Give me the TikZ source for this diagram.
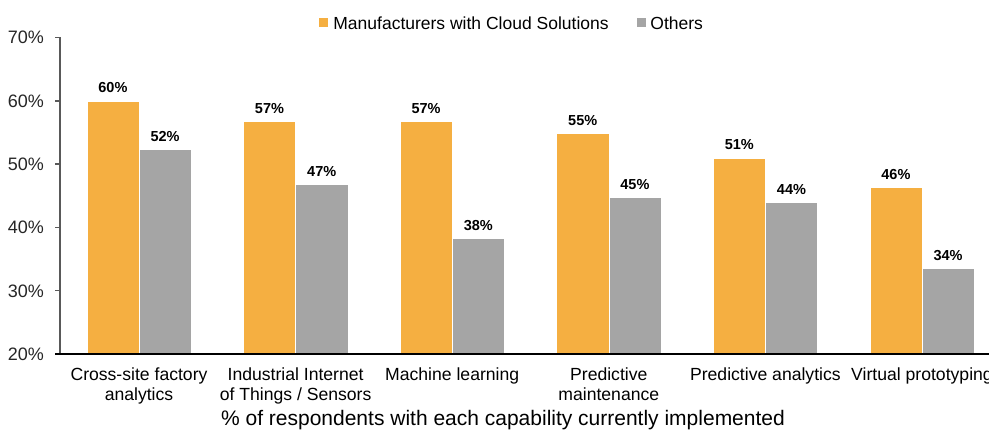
\documentclass[tikz,border=0pt]{standalone}
\usepackage{fontspec}
\setmainfont{Liberation Sans}
\usepackage{tikz}
\usepackage{color}
\usetikzlibrary{positioning}

\definecolor{cloudorange}{HTML}{F5AF41}
\definecolor{othergray}{HTML}{A5A5A5}
\definecolor{axisgray}{HTML}{595959}

\begin{document}
\begin{tikzpicture}[x=1pt,y=1pt]
        \tikzstyle{cbar}=[fill=cloudorange, draw=white, line width=0.5pt]
        \tikzstyle{obar}=[fill=othergray, draw=white, line width=0.5pt]
        \tikzstyle{vlab}=[anchor=base, inner sep=0pt, yshift=7.8pt, font=\fontsize{14.5}{17}\selectfont\bfseries]
        \tikzstyle{tlab}=[anchor=base east, inner sep=0pt, yshift=-6.4pt, font=\fontsize{18}{21}\selectfont, text=black!85]
        \tikzstyle{clab}=[anchor=base, inner sep=0pt, align=center, font=\fontsize{17.6}{20.5}\selectfont]
        \tikzstyle{lgd}=[inner sep=0pt, font=\fontsize{17.5}{20}\selectfont]
        \tikzstyle{lkey}=[inner sep=0pt, minimum size=9pt]
        \tikzstyle{tck}=[axisgray, line width=1.5pt]

        \newcommand{\bw}{52.2}

        \clip (0,0) rectangle (989,432);

        % legend
        \node (k1) at (323.5,409) [lkey, fill=cloudorange]{};
        \node (l1) [lgd, right=5pt of k1]{Manufacturers with Cloud Solutions};
        \node (k2) at (641.5,409) [lkey, fill=othergray]{};
        \node (l2) [lgd, right=4pt of k2]{Others};

        % plot area, y in percent
        \begin{scope}[shift={(60,-48.6)}, y=6.33pt]
        \fill[cbar] (79-\bw,20) rectangle (79,60);
        \fill[obar] (79,20) rectangle (79+\bw,52.3);
        \fill[cbar] (235.6-\bw,20) rectangle (235.6,56.7);
        \fill[obar] (235.6,20) rectangle (235.6+\bw,46.8);
        \fill[cbar] (392.2-\bw,20) rectangle (392.2,56.7);
        \fill[obar] (392.2,20) rectangle (392.2+\bw,38.3);
        \fill[cbar] (548.8-\bw,20) rectangle (548.8,54.9);
        \fill[obar] (548.8,20) rectangle (548.8+\bw,44.8);
        \fill[cbar] (705.4-\bw,20) rectangle (705.4,51.0);
        \fill[obar] (705.4,20) rectangle (705.4+\bw,43.9);
        \fill[cbar] (862-\bw,20) rectangle (862,46.4);
        \fill[obar] (862,20) rectangle (862+\bw,33.6);

        \node (m1) at (52.9,60) [vlab]{60\%};
        \node (g1) at (105.1,52.3) [vlab]{52\%};
        \node (m2) at (209.5,56.7) [vlab]{57\%};
        \node (g2) at (261.7,46.8) [vlab]{47\%};
        \node (m3) at (366.1,56.7) [vlab]{57\%};
        \node (g3) at (418.3,38.3) [vlab]{38\%};
        \node (m4) at (522.7,54.9) [vlab]{55\%};
        \node (g4) at (574.9,44.8) [vlab]{45\%};
        \node (m5) at (679.3,51.0) [vlab]{51\%};
        \node (g5) at (731.5,43.9) [vlab]{44\%};
        \node (m6) at (835.9,46.4) [vlab]{46\%};
        \node (g6) at (888.1,33.6) [vlab]{34\%};

        % axes
        \draw[tck] (0,20) -- (0,70);
        \draw[tck] (-5,30) -- (0,30);
        \draw[tck] (-5,40) -- (0,40);
        \draw[tck] (-5,50) -- (0,50);
        \draw[tck] (-5,60) -- (0,60);
        \draw[tck] (-5,70) -- (0,70);
        \draw[black, line width=1.3pt] (-5,20) -- (940,20);

        \node (t20) at (-16,20) [tlab]{20\%};
        \node (t30) at (-16,30) [tlab]{30\%};
        \node (t40) at (-16,40) [tlab]{40\%};
        \node (t50) at (-16,50) [tlab]{50\%};
        \node (t60) at (-16,60) [tlab]{60\%};
        \node (t70) at (-16,70) [tlab]{70\%};
        \end{scope}

        % categories
        \node (c1) at (139,31.5) [clab]{Cross-site factory\\analytics};
        \node (c2) at (295.6,31.5) [clab]{Industrial Internet\\of Things / Sensors};
        \node (c3) at (452.2,52) [clab]{Machine learning};
        \node (c4) at (608.8,31.5) [clab]{Predictive\\maintenance};
        \node (c5) at (765.4,52) [clab]{Predictive analytics};
        \node (c6) at (922,52) [clab]{Virtual prototyping};

        \node (xt) at (503,7) [anchor=base, inner sep=0pt, font=\fontsize{21}{24}\selectfont]{\% of respondents with each capability currently implemented};

\end{tikzpicture}
\end{document}
